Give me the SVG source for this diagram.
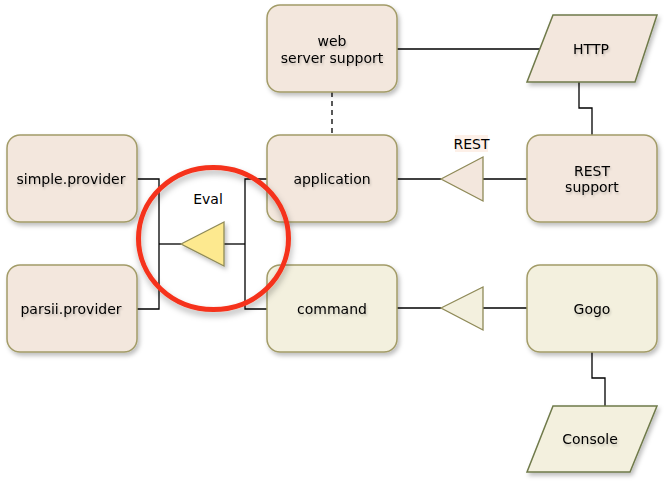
<svg xmlns="http://www.w3.org/2000/svg" width="667" height="482" viewBox="0 0 667 482">
<style>
.box{stroke:#a39c68;stroke-width:1.5;filter:url(#sh)}
.pink{fill:#f3e7dd}
.yel{fill:#f3f0de}
.lbl{font-family:"DejaVu Sans","Liberation Sans",sans-serif;font-size:14px;fill:#000;text-anchor:middle;filter:url(#tsh)}
.c{fill:none;stroke:#000;stroke-width:1.3}
.tri{stroke:#8f8a58;stroke-width:1.3}
</style>
<defs>
<filter id="sh" x="-10%" y="-10%" width="130%" height="130%">
<feDropShadow dx="2" dy="3" stdDeviation="2" flood-color="#000" flood-opacity="0.25"/>
</filter>
<filter id="tsh" x="-10%" y="-20%" width="130%" height="160%">
<feDropShadow dx="1" dy="2" stdDeviation="1" flood-color="#000" flood-opacity="0.2"/>
</filter>
<filter id="csh" x="-20%" y="-20%" width="140%" height="140%">
<feDropShadow dx="1" dy="4" stdDeviation="3" flood-color="#000" flood-opacity="0.3"/>
</filter>
</defs>

<g id="connectors">
<line class="c" x1="397" y1="49" x2="540" y2="49"/>
<polyline class="c" points="579,82 579,108 592,108 592,135"/>
<line class="c" x1="332" y1="92" x2="332" y2="135" stroke-dasharray="5,4"/>
<line class="c" x1="527" y1="179" x2="483" y2="179"/>
<line class="c" x1="441" y1="179" x2="397" y2="179"/>
<line class="c" x1="527" y1="308" x2="483" y2="308"/>
<line class="c" x1="441" y1="308" x2="397" y2="308"/>
<polyline class="c" points="592,352 592,378 605,378 605,406"/>
<polyline class="c" points="137,179 159,179 159,309 137,309"/>
<line class="c" x1="159" y1="244" x2="181" y2="244"/>
<line class="c" x1="224" y1="244" x2="245" y2="244"/>
<polyline class="c" points="267,179 245,179 245,309 267,309"/>
<polygon class="tri" points="441,179 483,157 483,201" fill="#f3e7dd"/>
<polygon class="tri" points="441,308 483,287 483,330" fill="#f3f0de"/>
<polygon class="tri" points="181,244 224,222 224,266" fill="#fde98f" filter="url(#sh)"/>
<rect x="455" y="135" width="33" height="17" fill="#fdf0e8"/>
<text class="lbl" x="471.5" y="148.5" style="filter:none">REST</text>
<text class="lbl" x="208" y="204" style="filter:none">Eval</text>
</g>

<g id="web">
<rect class="box pink" x="267" y="5" width="130" height="87" rx="13"/>
<text class="lbl" x="332" y="46">web</text>
<text class="lbl" x="332" y="63">server support</text>
</g>
<g id="http">
<polygon class="box pink" points="553,15 657,15 635,82 527,82" style="stroke:#6f7a4a"/>
<text class="lbl" x="591" y="53.5">HTTP</text>
</g>
<g id="simple">
<rect class="box pink" x="7" y="135" width="130" height="87" rx="13"/>
<text class="lbl" x="71" y="184">simple.provider</text>
</g>
<g id="parsii">
<rect class="box pink" x="7" y="265" width="130" height="87" rx="13"/>
<text class="lbl" x="71" y="313.5">parsii.provider</text>
</g>
<g id="application">
<rect class="box pink" x="267" y="135" width="130" height="87" rx="13"/>
<text class="lbl" x="332" y="184">application</text>
</g>
<g id="command">
<rect class="box yel" x="267" y="265" width="130" height="87" rx="13"/>
<text class="lbl" x="332" y="313.5">command</text>
</g>
<g id="rest">
<rect class="box pink" x="527" y="135" width="130" height="87" rx="13"/>
<text class="lbl" x="592" y="176">REST</text>
<text class="lbl" x="592" y="192">support</text>
</g>
<g id="gogo">
<rect class="box yel" x="527" y="265" width="130" height="87" rx="13"/>
<text class="lbl" x="592" y="313.5">Gogo</text>
</g>
<g id="console">
<polygon class="box yel" points="553,406 657,406 630,472 527,472" style="stroke:#6f7a4a"/>
<text class="lbl" x="590" y="443.5">Console</text>
</g>
<g id="highlight">
<ellipse cx="213.5" cy="238.5" rx="75" ry="71" fill="none" stroke="#f5331a" stroke-width="5" filter="url(#csh)"/>
</g>
</svg>
